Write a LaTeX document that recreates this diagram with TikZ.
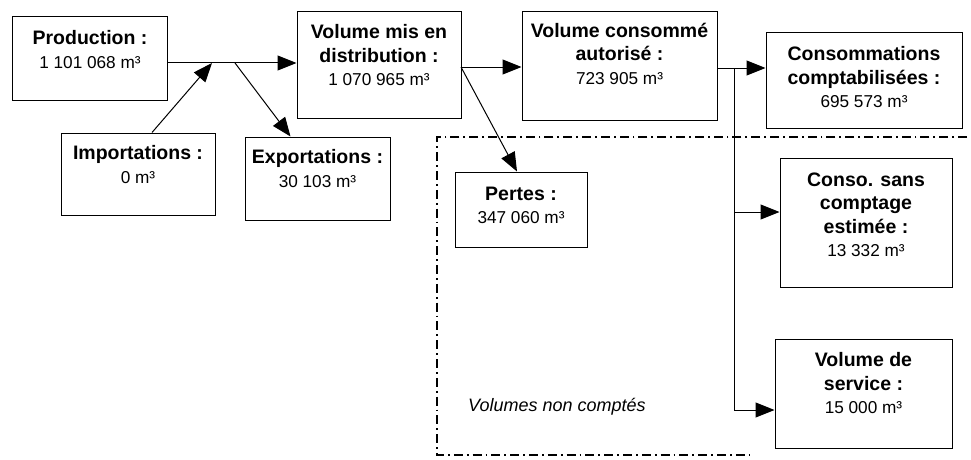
\documentclass[tikz,border=0pt]{standalone}
\usepackage{fontspec}
\setmainfont{Liberation Sans}
\usetikzlibrary{arrows.meta}
\newcommand\Bt{\fontsize{19.5}{23.5}\selectfont\bfseries}
\tikzset{
  box/.style={draw, line width=1pt, inner sep=0pt, rectangle},
  txt/.style={anchor=north, align=center, inner sep=0pt, font=\fontsize{17.2}{23.5}\selectfont},
  arr/.style={line width=1pt, -{Triangle[length=19pt,width=15pt]}},
  ln/.style={line width=1pt},
  dashdot/.style={line width=1.2pt, dash pattern=on 9pt off 4pt on 1.8pt off 4pt}
}
\begin{document}
\begin{tikzpicture}[x=1pt,y=-1pt]
\useasboundingbox (0,0) rectangle (971,460);
% boxes
\node[box, minimum width=155pt, minimum height=83pt] (prod) at (90,58.5) {};
\node[box, minimum width=164pt, minimum height=106pt] (dist) at (379,65) {};
\node[box, minimum width=154pt, minimum height=82pt] (imp) at (138,174) {};
\node[box, minimum width=145pt, minimum height=83pt] (exp) at (317.5,178.5) {};
\node[box, minimum width=195pt, minimum height=108pt] (auto) at (619.5,66) {};
\node[box, minimum width=196pt, minimum height=95pt] (comp) at (864,80.5) {};
\node[box, minimum width=132pt, minimum height=75pt] (pertes) at (521,209.5) {};
\node[box, minimum width=172pt, minimum height=129pt] (sans) at (866,222.5) {};
\node[box, minimum width=177pt, minimum height=109pt] (serv) at (863.5,393.5) {};
% texts
\node[txt] (tprod) at ([yshift=-14pt]prod.north) {\Bt Production :\\ 1 101 068 m³};
\node[txt] (tdist) at ([yshift=-13pt]dist.north) {\Bt Volume mis en\\ \Bt distribution :\\ 1 070 965 m³};
\node[txt] (timp) at ([yshift=-13pt]imp.north) {\Bt Importations :\\ 0 m³};
\node[txt] (texp) at ([yshift=-13pt]exp.north) {\Bt Exportations :\\ 30 103 m³};
\node[txt] (tauto) at ([yshift=-11pt]auto.north) {\Bt Volume consommé\\ \Bt autorisé :\\ 723 905 m³};
\node[txt] (tcomp) at ([yshift=-14pt]comp.north) {\Bt Consommations\\ \Bt comptabilisées :\\ 695 573 m³};
\node[txt] (tpertes) at ([yshift=-15pt]pertes.north) {\Bt Pertes :\\ 347 060 m³};
\node[txt] (tsans) at ([yshift=-15pt]sans.north) {\Bt Conso. sans\\ \Bt comptage\\ \Bt estimée :\\ 13 332 m³};
\node[txt] (tserv) at ([yshift=-14pt]serv.north) {\Bt Volume de\\ \Bt service :\\ 15 000 m³};
\node[anchor=west, inner sep=0pt, font=\fontsize{18}{20}\selectfont\itshape] (nc) at (468,407) {Volumes non comptés};
% junctions
\coordinate (j1) at (212,63);
\coordinate (j2) at (235,63);
\coordinate (j3) at (461,67);
\coordinate (j4) at (734,68);
\coordinate (j5) at (734,212);
\coordinate (j6) at (734,410);
% connectors
\draw[arr] (prod.east |- j1) -- (dist.west |- j1);
\draw[arr] ([xshift=14pt]imp.north) -- (j1);
\draw[arr] (j2) -- ([xshift=-27pt]exp.north);
\draw[arr] (j3) -- (auto.west |- j3);
\draw[arr] (j3) -- ([xshift=-4pt]pertes.north);
\draw[arr] (auto.east |- j4) -- (comp.west |- j4);
\draw[ln] (j4) -- (j6);
\draw[arr] (j5) -- (sans.west |- j5);
\draw[arr] (j6) -- (serv.west |- j6);
% dash-dot frame
\draw[dashdot] (967,137) -- (437,137) -- (437,455) -- (750,455);
\end{tikzpicture}
\end{document}
